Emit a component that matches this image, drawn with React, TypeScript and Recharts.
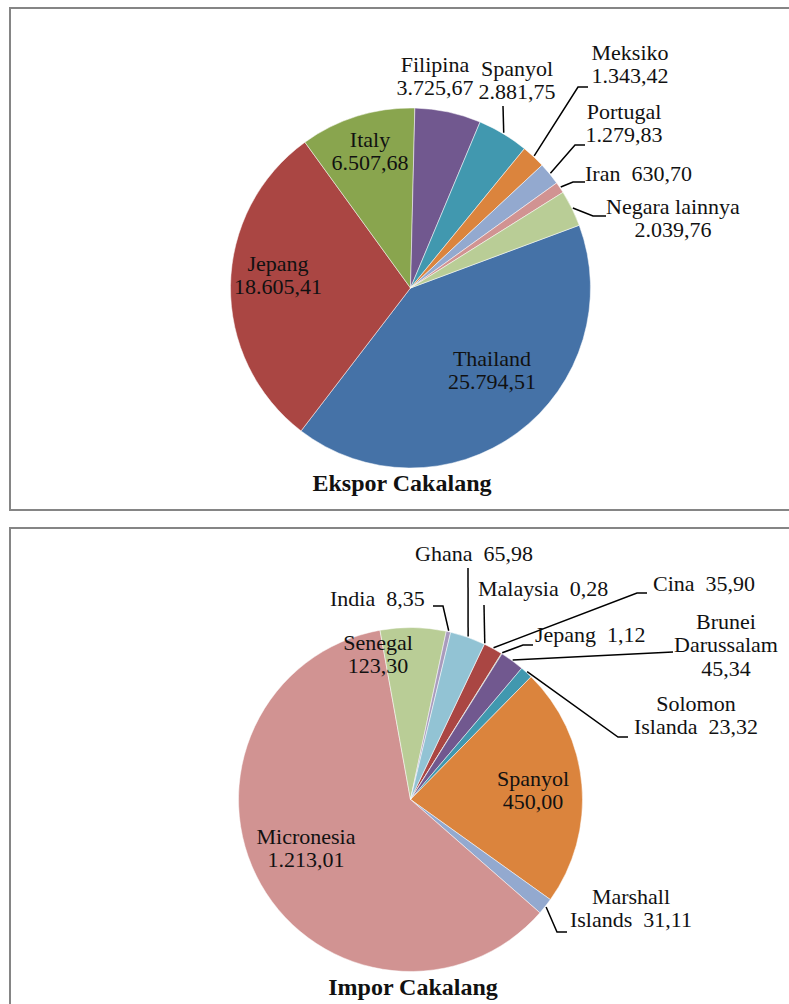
import React from 'react';
import { PieChart, Pie, Cell } from 'recharts';

// ---------- data ----------
const exportCountries = ['Thailand', 'Jepang', 'Italy', 'Filipina', 'Spanyol', 'Meksiko', 'Portugal', 'Iran', 'Negara lainnya'];
const exportValues = [25794.51, 18605.41, 6507.68, 3725.67, 2881.75, 1343.42, 1279.83, 630.70, 2039.76];

const importCountries = ['Malaysia', 'Cina', 'Jepang', 'Brunei Darussalam', 'Solomon Islanda', 'Spanyol', 'Marshall Islands', 'Micronesia', 'Senegal', 'India', 'Ghana'];
const importValues = [0.28, 35.90, 1.12, 45.34, 23.32, 450.00, 31.11, 1213.01, 123.30, 8.35, 65.98];

const exportTitle = 'Ekspor Cakalang';
const importTitle = 'Impor Cakalang';

const palette = ['#4572A7', '#AA4643', '#89A54E', '#71588F', '#4198AF', '#DB843D', '#93A9CF', '#D19392', '#B9CD96', '#A99BBD', '#92C3D4'];

// ---------- label layout (relative to pie centre) ----------
type Lay = { x: number; y: number; anchor?: 'middle' | 'start'; lines: string[]; leader?: number[][] };

const exportLayout: Record<string, Lay> = {
  'Thailand': { x: 81.5, y: 74, lines: ['{n}', '{v}'] },
  'Jepang': { x: -132.5, y: -21, lines: ['{n}', '{v}'] },
  'Italy': { x: -40.5, y: -145, lines: ['{n}', '{v}'] },
  'Filipina': { x: 24.5, y: -220, lines: ['{n}', '{v}'] },
  'Spanyol': { x: 106.5, y: -216, lines: ['{n}', '{v}'], leader: [[92.5, -182]] },
  'Meksiko': { x: 219.5, y: -232, lines: ['{n}', '{v}'], leader: [[167.5, -201], [177.5, -201]] },
  'Portugal': { x: 213.5, y: -173, lines: ['{n}', '{v}'], leader: [[164.5, -143], [174.5, -143]] },
  'Iran': { x: 174.5, y: -111, anchor: 'start', lines: ['{n}  {v}'], leader: [[162.5, -106], [174.5, -106]] },
  'Negara lainnya': { x: 262.5, y: -78, lines: ['{n}', '{v}'], leader: [[182.5, -72], [195.5, -72]] },
};

const importLayout: Record<string, Lay> = {
  'Ghana': { x: 4.5, y: -242.5, anchor: 'start', lines: ['{n}  {v}'], leader: [[57.5, -231.5]] },
  'India': { x: -80.5, y: -197.5, anchor: 'start', lines: ['{n}  {v}'], leader: [[32.5, -193.5], [22.5, -193.5]] },
  'Malaysia': { x: 67.5, y: -207.5, anchor: 'start', lines: ['{n}  {v}'], leader: [[73.5, -194.5]] },
  'Cina': { x: 242.5, y: -212.5, anchor: 'start', lines: ['{n}  {v}'], leader: [[226.5, -206.5], [236.5, -206.5]] },
  'Jepang': { x: 124.5, y: -161.5, anchor: 'start', lines: ['{n}  {v}'], leader: [[112.5, -154.5], [122.5, -154.5]] },
  'Brunei Darussalam': { x: 315.5, y: -174.5, lines: ['{w0}', '{w1}', '{v}'], leader: [[262.5, -147.5]] },
  'Solomon Islanda': { x: 285.5, y: -92.5, lines: ['{w0}', '{w1}  {v}'], leader: [[207.5, -62.5], [217.5, -62.5]] },
  'Senegal': { x: -32.5, y: -153.5, lines: ['{n}', '{v}'] },
  'Spanyol': { x: 122.5, y: -17.5, lines: ['{n}', '{v}'] },
  'Micronesia': { x: -104.5, y: 40.5, lines: ['{n}', '{v}'] },
  'Marshall Islands': { x: 220.5, y: 100.5, lines: ['{w0}', '{w1}  {v}'], leader: [[146.5, 132.5], [156.5, 132.5]] },
};

const FONT = '"Liberation Serif", "Times New Roman", serif';
const LINE_GAP = 23.5;
const TEXT_SHIFT = -4;
const RAD = Math.PI / 180;

function fmt(v: number): string {
  const [i, f] = v.toFixed(2).split('.');
  const withDots = i.replace(/\B(?=(\d{3})+(?!\d))/g, '.');
  return `${withDots},${f}`;
}

function fill(t: string, name: string, value: number): string {
  const words = name.split(' ');
  return t
    .replace('{n}', name)
    .replace('{v}', fmt(value))
    .replace('{w0}', words[0] || '')
    .replace('{w1}', words.slice(1).join(' '));
}

function makeLabel(layout: Record<string, Lay>) {
  return (props: any) => {
    const { cx, cy, midAngle, outerRadius, name, value } = props;
    const L = layout[name];
    if (!L) return null;
    const anchor = L.anchor || 'middle';
    let path: React.ReactNode = null;
    if (L.leader) {
      const sx = cx + (outerRadius + 1) * Math.cos(-midAngle * RAD);
      const sy = cy + (outerRadius + 1) * Math.sin(-midAngle * RAD);
      const d = `M${sx},${sy}` + L.leader.map((p) => ` L${cx + p[0]},${cy + p[1]}`).join('');
      path = <path d={d} stroke="#000" strokeWidth={1.5} fill="none" />;
    }
    return (
      <g key={`lbl-${name}`}>
        {path}
        {L.lines.map((t, i) => (
          <text
            key={i}
            x={cx + L.x}
            y={cy + L.y + TEXT_SHIFT + i * LINE_GAP}
            textAnchor={anchor}
            dominantBaseline="central"
            fontSize={22}
            fill="#111"
            style={{ whiteSpace: 'pre', fontFamily: FONT }}
          >
            {fill(t, name, value)}
          </text>
        ))}
      </g>
    );
  };
}

const exportData = exportCountries.map((name, i) => ({ name, value: exportValues[i] }));
const importData = importCountries.map((name, i) => ({ name, value: importValues[i] }));

const renderExportLabel = makeLabel(exportLayout);
const renderImportLabel = makeLabel(importLayout);

const titleStyle: React.CSSProperties = {
  position: 'absolute',
  left: 0,
  fontFamily: FONT,
  fontWeight: 'bold',
  fontSize: 24,
  lineHeight: '24px',
  textAlign: 'center',
  color: '#111',
};

export default function App() {
  return (
    <div style={{ position: 'absolute', left: 0, top: 0, width: 789, height: 1004, overflow: 'hidden', background: '#fff', fontFamily: FONT }}>
      <div style={{ position: 'absolute', left: 9, top: 7, width: 800, height: 504, border: '2px solid #858585', boxSizing: 'border-box' }} />
      <div style={{ position: 'absolute', left: 9, top: 527, width: 800, height: 600, border: '2px solid #858585', boxSizing: 'border-box' }} />

      <div style={{ position: 'absolute', left: 0, top: 0 }}>
        <PieChart width={789} height={520}>
          <Pie
            data={exportData}
            dataKey="value"
            nameKey="name"
            cx={405.5}
            cy={283}
            outerRadius={180}
            startAngle={20.4}
            endAngle={-339.6}
            stroke="#ffffff"
            strokeWidth={0.5}
            isAnimationActive={false}
            label={renderExportLabel}
            labelLine={false}
          >
            {exportData.map((d, i) => (
              <Cell key={d.name} fill={palette[i % palette.length]} />
            ))}
          </Pie>
        </PieChart>
      </div>

      <div style={{ position: 'absolute', left: 0, top: 520 }}>
        <PieChart width={789} height={484}>
          <Pie
            data={importData}
            dataKey="value"
            nameKey="name"
            cx={405.5}
            cy={274.5}
            outerRadius={172}
            startAngle={64.6}
            endAngle={-295.4}
            stroke="#ffffff"
            strokeWidth={0.5}
            isAnimationActive={false}
            label={renderImportLabel}
            labelLine={false}
          >
            {importData.map((d, i) => (
              <Cell key={d.name} fill={palette[i % palette.length]} />
            ))}
          </Pie>
        </PieChart>
      </div>

      <div style={{ ...titleStyle, top: 471, width: 804 }}>{exportTitle}</div>
      <div style={{ ...titleStyle, top: 975, width: 826 }}>{importTitle}</div>
    </div>
  );
}
